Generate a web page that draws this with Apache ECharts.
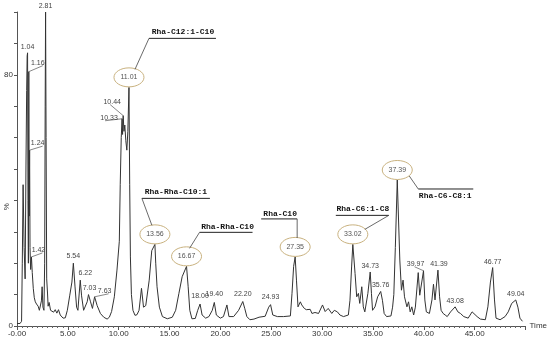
<!DOCTYPE html>
<html><head><meta charset="utf-8">
<script src="https://cdn.jsdelivr.net/npm/echarts@6/dist/echarts.min.js"></script>
<style>html,body{margin:0;padding:0;background:#fff}#c{width:550px;height:343px}</style>
</head><body><div id="c"></div>
<script>
// ---- data ----
const traceTime = [0,0.3,0.45,0.52,0.6,0.7,0.8,0.88,0.95,1.0,1.04,1.08,1.12,1.16,1.2,1.24,1.28,1.34,1.42,1.5,1.6,1.7,1.8,1.92,2.08,2.2,2.3,2.4,2.47,2.55,2.65,2.72,2.77,2.81,2.86,2.92,3.0,3.06,3.16,3.3,3.45,3.6,3.76,3.92,4.08,4.25,4.53,4.75,4.95,5.18,5.4,5.54,5.7,5.86,5.99,6.12,6.22,6.35,6.55,6.7,6.9,7.03,7.23,7.42,7.63,7.88,8.2,8.53,8.86,9.08,9.3,9.57,9.83,10.06,10.15,10.25,10.33,10.38,10.44,10.52,10.6,10.7,10.8,10.9,11.01,11.08,11.15,11.25,11.4,11.6,11.8,12.0,12.24,12.44,12.66,13.0,13.25,13.56,13.64,13.77,13.85,14.0,14.3,14.78,15.27,15.6,15.92,16.24,16.67,16.83,16.99,17.2,17.53,17.77,18.0,18.2,18.55,18.87,19.2,19.4,19.6,19.99,20.3,20.64,20.84,21.3,21.79,22.2,22.4,22.6,22.9,23.3,23.8,24.4,24.75,24.93,25.15,25.6,26.2,26.88,27.04,27.2,27.35,27.48,27.63,27.86,28.0,28.25,28.45,28.6,28.83,29.0,29.3,29.65,30.04,30.3,30.6,30.95,31.2,31.5,31.75,32.1,32.58,32.74,32.9,33.02,33.24,33.4,33.57,33.7,33.9,34.05,34.2,34.5,34.73,34.85,34.96,35.2,35.46,35.76,35.93,36.1,36.34,36.77,36.93,37.05,37.2,37.39,37.64,37.8,37.96,38.1,38.34,38.5,38.66,38.82,39.0,39.17,39.45,39.6,39.97,40.1,40.25,40.55,40.8,40.95,41.1,41.39,41.55,41.7,41.9,42.1,42.3,42.63,43.08,43.35,43.6,43.93,44.36,44.75,44.9,45.24,45.56,46.05,46.3,46.55,46.77,46.95,47.1,47.5,47.99,48.3,48.64,49.04,49.25,49.45,49.7];
const traceIntensity = [0.8,0.8,1.5,20,45,25,15,50,75,86,87,40,20,81,35,56,25,18,22,17,12,9,7.7,7,6.3,5,5.5,8,12.5,6,5,20,70,100,60,15,10.5,6.3,7.5,5,5.6,4.4,5.2,4.1,5.2,3.5,2.5,2.6,5,9.6,14,20,12.7,6,5,10.5,14.6,9.6,5,4.6,7.7,10,7.7,5.6,9.3,6.5,4,2.8,2.2,2.8,4.6,9.3,17.8,27,45,60,66,61,67,62,64,59,56,62,76,45,22,10,5,3.4,3.6,5,12,6,6.5,14.6,24,26,20,12.5,12,6,3,2.3,2.8,5,10.4,15.7,19,12.5,5,2.3,2.4,5,7,3.5,2.5,3,5,7.5,3.5,2.5,3,6.7,3,3,5,7.8,5.5,3,2,2.2,2.8,3.1,6,6.8,3.5,3,3,3.2,10.4,19,22,14.6,6.1,7.7,6.7,5.6,5.2,4.6,5.3,4,4.3,4,6.7,4.6,5.6,4,5,4.5,3.5,3,3.5,8.2,18.8,26,16.7,9.3,10.4,7.2,12.5,6.1,4.5,10.4,17.2,10.4,5,6.1,9.3,11,8.2,4,3,3.2,6,10,25,46.5,21,11.4,14.6,9.3,6.1,7.7,4.5,6.1,3.5,6,17,9.8,17.6,8.3,4.5,4,8.3,13.3,8.3,17.8,9.3,5,4,3.5,3,4.5,6.1,4.5,4,3,2.5,4.5,4,3,2.2,2,6.1,14,18.6,8.3,2.5,2,3,4.5,7.2,8.3,6,2.5,1.5];

const peakTimes   = [1.04,1.16,1.24,1.42,2.81,5.54,6.22,7.03,7.63,10.33,10.44,11.01,13.56,16.67,18.00,19.40,22.20,24.93,27.35,33.02,34.73,35.76,37.39,39.97,41.39,43.08,46.77,49.04];
const peakHeights = [87,81,56,22,100,20,14.6,10,9.3,66,67,76,26,19,7,7.5,7.8,6.8,22,26,17.2,11,46.5,17.6,17.8,6.1,18.6,8.3];
const peakLabels  = ['1.04','1.16','1.24','1.42','2.81','5.54','6.22','7.03','7.63','10.33','10.44','11.01','13.56','16.67','18.00','19.40','22.20','24.93','27.35','33.02','34.73','35.76','37.39','39.97','41.39','43.08','46.77','49.04'];

const circledPeaks  = ['11.01','13.56','16.67','27.35','33.02','37.39'];
const compoundNames = ['Rha-C12:1-C10','Rha-Rha-C10:1','Rha-Rha-C10','Rha-C10','Rha-C6:1-C8','Rha-C6-C8:1'];

const xTicks = [0,5,10,15,20,25,30,35,40,45];
const xTickLabels = ['-0.00','5.00','10.00','15.00','20.00','25.00','30.00','35.00','40.00','45.00'];
const yTickLabels = {0:'0',80:'80'};

// ---- styling / annotation offsets (pixels relative to peak top) ----
const labelOffset = {
  '1.04':[0,-6],'1.16':[9,-9],'1.24':[8,-7],'1.42':[7,-7],'2.81':[0,-6],
  '5.54':[0,-7],'6.22':[5,-7],'7.03':[1,-7],'7.63':[10,-6],
  '10.33':[-13,-1],'10.44':[-11,-14],
  '18.00':[0,-8],'19.40':[0,-8],'22.20':[0,-7],'24.93':[0,-8],
  '34.73':[0,-6],'35.76':[0,-6],'39.97':[-8,-7],'41.39':[1,-6],'43.08':[0,-6],'46.77':[0,-6],'49.04':[0,-6]
};
const leaderFrom = { '1.16':[5,-6],'1.24':[5,-4],'1.42':[4,-4],'7.63':[4,-3],'10.33':[-4,-1],'10.44':[-2,-10],'39.97':[-1,-4] };
const compoundLayout = [
  {text:[54,-55], line:[20,87,-49], lead:[[20,-49],[6,-18]], below:false},
  {text:[21,-52], line:[-13,55,-46], lead:[[-13,-46],[-3,-19]], below:false},
  {text:[41,-39], line:[13,66,-34], lead:[[13,-34],[3,-18]], below:false},
  {text:[-15,-43], line:[-34,2,-38], lead:[[2,-38],[2,-19]], below:false},
  {text:[10,-35], line:[-17,36,-29], lead:[[36,-29],[12,-15]], below:false},
  {text:[48,16], line:[21,76,9], lead:[[21,9],[12,-4]], below:true}
];

const chart = echarts.init(document.getElementById('c'), null, {renderer:'canvas'});
const lineData = traceTime.map((t,i)=>[t, traceIntensity[i]]);
const axisFont = {fontFamily:'Liberation Sans, Arial, sans-serif', fontSize:8, color:'#333'};

chart.setOption({
  animation:false,
  backgroundColor:'#fff',
  grid:{left:17, right:22, top:12, bottom:17, containLabel:false},
  xAxis:{type:'value', min:0, max:50, interval:5,
    axisLine:{lineStyle:{color:'#555', width:1}},
    axisTick:{length:4, lineStyle:{color:'#555'}},
    minorTick:{show:true, splitNumber:10, length:2, lineStyle:{color:'#666'}},
    splitLine:{show:false},
    axisLabel:Object.assign({margin:4, formatter:v=>{const k=xTicks.indexOf(v);return k>=0?xTickLabels[k]:'';}}, axisFont),
    name:'Time', nameLocation:'end', nameGap:4,
    nameTextStyle:Object.assign({}, axisFont, {verticalAlign:'middle', padding:[0,0,0,0]})
  },
  yAxis:{type:'value', min:0, max:100, interval:10,
    axisLine:{show:true, lineStyle:{color:'#555', width:1}},
    axisTick:{show:true, length:3, lineStyle:{color:'#555'}},
    splitLine:{show:false},
    axisLabel:Object.assign({margin:4, formatter:v=>yTickLabels[v]||''}, axisFont)
  },
  series:[{type:'line', data:lineData, showSymbol:false, symbol:'none',
    lineStyle:{color:'#333', width:1}, z:2}]
});

const gfx = [];
const font7 = '7px "Liberation Sans", Arial, sans-serif';
peakTimes.forEach((t,i)=>{
  const p = chart.convertToPixel({gridIndex:0},[t, peakHeights[i]]);
  const lab = peakLabels[i];
  if (circledPeaks.indexOf(lab) >= 0) {
    const cx = p[0], cy = p[1]-10;
    gfx.push({type:'ellipse', shape:{cx:cx, cy:cy, rx:15, ry:9.5}, style:{fill:'rgba(0,0,0,0)', stroke:'#c9b27f', lineWidth:1}, z:10});
    gfx.push({type:'text', x:cx, y:cy, style:{text:lab, font:font7, fill:'#555', align:'center', verticalAlign:'middle'}, z:11});
    const k = circledPeaks.indexOf(lab);
    const L = compoundLayout[k];
    gfx.push({type:'text', x:p[0]+L.text[0], y:p[1]+L.text[1], style:{text:compoundNames[k], font:'bold 8px "Liberation Mono", "Courier New", monospace', fill:'#111', align:'center', verticalAlign:'middle'}, z:11});
    gfx.push({type:'line', shape:{x1:p[0]+L.line[0], y1:p[1]+L.line[2], x2:p[0]+L.line[1], y2:p[1]+L.line[2]}, style:{stroke:'#222', lineWidth:1}, z:10});
    gfx.push({type:'line', shape:{x1:p[0]+L.lead[0][0], y1:p[1]+L.lead[0][1], x2:p[0]+L.lead[1][0], y2:p[1]+L.lead[1][1]}, style:{stroke:'#444', lineWidth:0.8}, z:10});
  } else {
    const o = labelOffset[lab] || [0,-6];
    gfx.push({type:'text', x:p[0]+o[0], y:p[1]+o[1], style:{text:lab, font:font7, fill:'#444', align:'center', verticalAlign:'middle'}, z:11});
    if (leaderFrom[lab]) {
      const f = leaderFrom[lab];
      gfx.push({type:'line', shape:{x1:p[0]+o[0]+f[0]-o[0]*0, y1:p[1]+o[1]+3, x2:p[0], y2:p[1]}, style:{stroke:'#555', lineWidth:0.7}, z:10});
    }
  }
});
// y-axis unit label
const mid = chart.convertToPixel({gridIndex:0},[0,38]);
gfx.push({type:'text', x:mid[0]-10, y:mid[1], rotation:Math.PI/2, style:{text:'%', font:'8px "Liberation Sans", Arial, sans-serif', fill:'#333', align:'center', verticalAlign:'middle'}});
chart.setOption({graphic:gfx});
</script></body></html>
